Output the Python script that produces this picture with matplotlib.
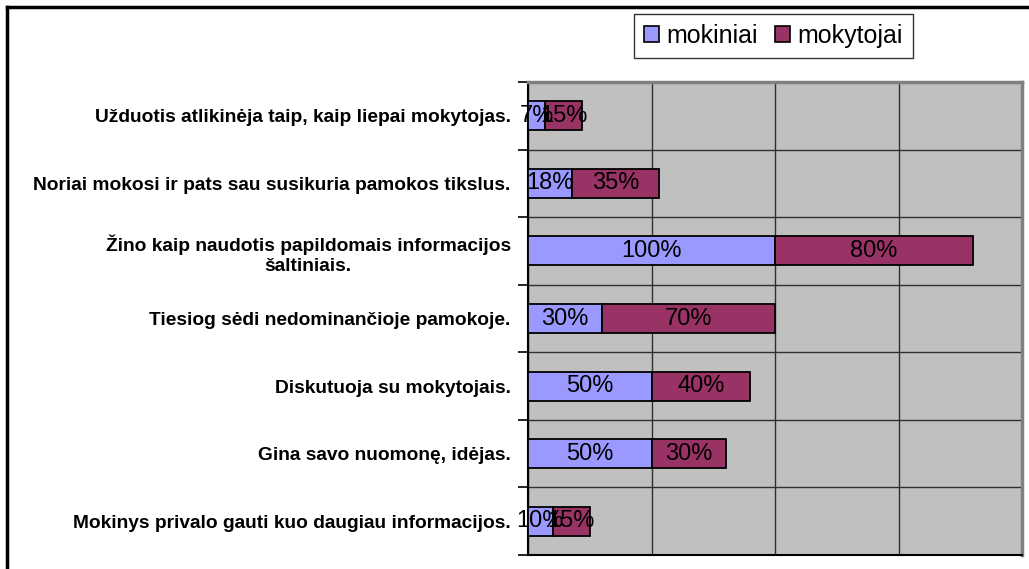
import matplotlib
matplotlib.use("Agg")
import matplotlib.pyplot as plt
from matplotlib.lines import Line2D
from matplotlib.patches import Patch
import numpy as np

plt.rcParams['font.family'] = ['Liberation Sans', 'DejaVu Sans']

categories = [
    "Užduotis atlikinėja taip, kaip liepai mokytojas.",
    "Noriai mokosi ir pats sau susikuria pamokos tikslus.",
    "Žino kaip naudotis papildomais informacijos\nšaltiniais.",
    "Tiesiog sėdi nedominančioje pamokoje.",
    "Diskutuoja su mokytojais.",
    "Gina savo nuomonę, idėjas.",
    "Mokinys privalo gauti kuo daugiau informacijos.",
]
mokiniai = [7, 18, 100, 30, 50, 50, 10]
mokytojai = [15, 35, 80, 70, 40, 30, 15]
series_names = ["mokiniai", "mokytojai"]
colors = ["#9999FF", "#993366"]

W, H = 1029, 569
fig = plt.figure(figsize=(W / 100, H / 100), dpi=100)
ax = fig.add_axes([528 / W, 1 - 555 / H, (1022 - 528) / W, (555 - 82) / H])
ax.set_facecolor("#C0C0C0")

y = np.arange(len(categories))
bar_h = 0.43
b1 = ax.barh(y, mokiniai, height=bar_h, color=colors[0], edgecolor="black",
             linewidth=1.3, zorder=3)
b2 = ax.barh(y, mokytojai, left=mokiniai, height=bar_h, color=colors[1],
             edgecolor="black", linewidth=1.3, zorder=3)

for bars, vals in ((b1, mokiniai), (b2, mokytojai)):
    for rect, v in zip(bars, vals):
        cx = rect.get_x() + rect.get_width() / 2
        cy = rect.get_y() + rect.get_height() / 2
        ax.text(cx, cy, f"{v}%", ha="center", va="center", fontsize=17,
                color="black", zorder=5)

ax.set_xlim(0, 200)
ax.set_ylim(len(categories) - 0.5, -0.5)

# vertical grid every 50%
ax.set_xticks([0, 50, 100, 150, 200])
ax.set_xticklabels([])
ax.tick_params(axis="x", length=0)
ax.xaxis.grid(True, color="#303030", linewidth=1.0, zorder=1)

# category labels at centres, ticks and grid at boundaries
ax.set_yticks(y)
ax.set_yticklabels(categories, fontsize=13.8, fontweight="bold",
                   multialignment="center", linespacing=1.25)
ax.tick_params(axis="y", which="major", length=0, pad=12.5)
ax.set_yticks(np.arange(-0.5, len(categories)), minor=True)
ax.tick_params(axis="y", which="minor", length=7, width=1.2, color="black")
ax.yaxis.grid(True, which="minor", color="#303030", linewidth=1.0, zorder=1)
ax.set_axisbelow(True)

for side in ("left", "bottom"):
    ax.spines[side].set_color("black")
    ax.spines[side].set_linewidth(1.5)
for side in ("top", "right"):
    ax.spines[side].set_color("#808080")
    ax.spines[side].set_linewidth(2.5)

handles = [Patch(facecolor=c, edgecolor="black", linewidth=1.2) for c in colors]
leg = fig.legend(handles, series_names, loc="center",
                 bbox_to_anchor=((631 + 916) / 2 / W, 1 - 36 / H),
                 ncol=2, fontsize=18, frameon=True, fancybox=False,
                 handlelength=0.6, handleheight=0.6, handletextpad=0.3,
                 columnspacing=0.7, borderpad=0.4, borderaxespad=0)
leg.get_frame().set_edgecolor("black")
leg.get_frame().set_linewidth(1.0)

# outer frame (top and left edges)
fig.add_artist(Line2D([7 / W, 1.0], [1 - 7 / H, 1 - 7 / H],
                      transform=fig.transFigure, color="black", linewidth=2.5))
fig.add_artist(Line2D([7 / W, 7 / W], [0.0, 1 - 7 / H],
                      transform=fig.transFigure, color="black", linewidth=2.5))

fig.savefig("out.png", dpi=100)
